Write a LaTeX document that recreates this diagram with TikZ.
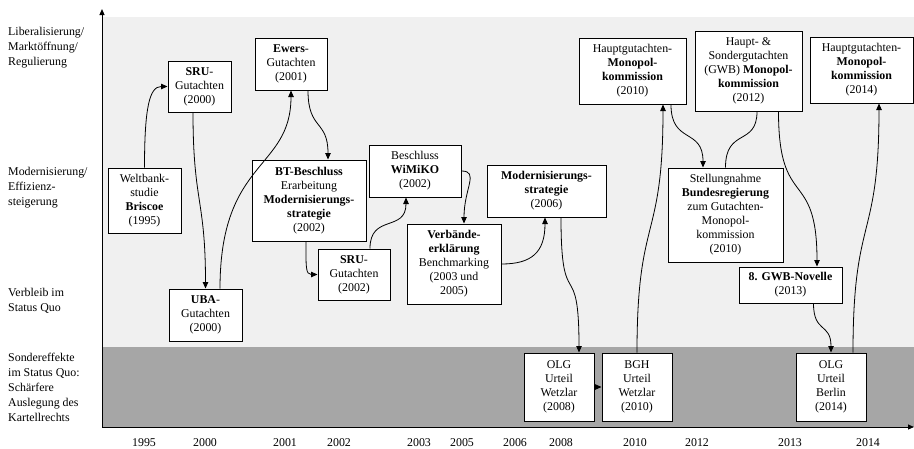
\documentclass[tikz,border=0pt]{standalone}
\usepackage{fontspec}
\setmainfont{Liberation Serif}
\usepackage{tikz}
\usetikzlibrary{arrows.meta, positioning}

\definecolor{bandlight}{RGB}{240,240,240}
\definecolor{banddark}{RGB}{166,166,166}

\begin{document}
\begin{tikzpicture}[
  x=1pt, y=-1pt,
  font=\fontsize{11.9}{14}\selectfont,
  box/.style={draw, line width=1pt, fill=white, align=center, inner sep=2pt},
  arrow/.style={-{Triangle[length=6.5pt,width=5.5pt]}, line width=0.8pt},
  link/.style={line width=0.8pt},
  level/.style={anchor=west, align=left, inner sep=0pt, font=\fontsize{11.9}{15}\selectfont},
  year/.style={inner sep=0pt},
  axis/.style={-{Triangle[length=6pt,width=5pt]}, line width=1pt}
]
\useasboundingbox (0,0) rectangle (914,448);

% background bands
\fill[bandlight] (102,17) rectangle (914,347);
\fill[banddark] (102,347) rectangle (914,427);

% axes
\coordinate (origin) at (102,427);
\coordinate (ytop) at (102,9);
\coordinate (xend) at (914,427);
\draw[axis] (origin) -- (ytop);
\draw[axis] (origin) -- (xend);

% levels
\node[level] (lvlLib) at (8,48) {Liberalisierung/\\Marktöffnung/\\Regulierung};
\node[level] (lvlMod) at (8,188) {Modernisierung/\\Effizienz-\\steigerung};
\node[level] (lvlQuo) at (8,301) {Verbleib im\\Status Quo};
\node[level] (lvlSon) at (8,387) {Sondereffekte\\im Status Quo:\\Schärfere\\Auslegung des\\Kartellrechts};

% years
\foreach \yr/\xp in {1995/144, 2000/205, 2001/285, 2002/339, 2003/419, 2005/462,
                     2006/515, 2008/561, 2010/635, 2012/697, 2013/790, 2014/868}
  \node[year] (yr\yr) at (\xp,443) {\yr};

% events
\node[box, minimum width=73, minimum height=65] (wb) at (144.5,200.5) {Weltbank-\\studie\\\textbf{Briscoe}\\(1995)};
\node[box, minimum width=63, minimum height=51] (sruA) at (199.5,86.5) {\textbf{SRU}-\\Gutachten\\(2000)};
\node[box, minimum width=73, minimum height=52] (uba) at (205.5,315) {\textbf{UBA}-\\Gutachten\\(2000)};
\node[box, minimum width=72, minimum height=52] (ewers) at (291,64) {\textbf{Ewers}-\\Gutachten\\(2001)};
\node[box, minimum width=114, minimum height=81] (bt) at (309,200.5) {\textbf{BT-Beschluss}\\Erarbeitung\\\textbf{Modernisierungs-}\\\textbf{strategie}\\(2002)};
\node[box, minimum width=72, minimum height=51] (sruB) at (354,274.5) {\textbf{SRU}-\\Gutachten\\(2002)};
\node[box, minimum width=92, minimum height=52] (wimiko) at (415,171) {Beschluss\\\textbf{WiMiKO}\\(2002)};
\node[box, minimum width=94, minimum height=80] (verb) at (454,264) {\textbf{Verbände-}\\\textbf{erklärung}\\Benchmarking\\(2003 und\\2005)};
\node[box, minimum width=119, minimum height=52] (modstr) at (546.5,191) {\textbf{Modernisierungs-}\\\textbf{strategie}\\(2006)};
\node[box, minimum width=107, minimum height=66] (hgA) at (632.5,71) {Hauptgutachten-\\\textbf{Monopol-}\\\textbf{kommission}\\(2010)};
\node[box, minimum width=107, minimum height=80] (hsg) at (748.5,71) {Haupt- \&\\Sondergutachten\\(GWB) \textbf{Monopol-}\\\textbf{kommission}\\(2012)};
\node[box, minimum width=103, minimum height=66] (hgB) at (861.5,70) {Hauptgutachten-\\\textbf{Monopol-}\\\textbf{kommission}\\(2014)};
\node[box, minimum width=115, minimum height=94] (stell) at (725.5,215) {Stellungnahme\\\textbf{Bundesregierung}\\zum Gutachten-\\Monopol-\\kommission\\(2010)};
\node[box, minimum width=103, minimum height=36] (gwb) at (790.5,285) {\textbf{8. GWB-Novelle}\\(2013)};
\node[box, minimum width=70, minimum height=68] (olgA) at (559,387) {OLG\\Urteil\\Wetzlar\\(2008)};
\node[box, minimum width=70, minimum height=68] (bgh) at (637,387) {BGH\\Urteil\\Wetzlar\\(2010)};
\node[box, minimum width=70, minimum height=68] (olgB) at (831,387) {OLG\\Urteil\\Berlin\\(2014)};

% connectors
\draw[arrow] (wb.north) .. controls +(0,-60) and +(-18,0) .. (sruA.west);
\draw[arrow] ([xshift=-6.5pt]sruA.south) .. controls +(0,90) and +(0,-90) .. (uba.north);
\draw[arrow] ([xshift=14.5pt]uba.north) .. controls +(0,-130) and +(0,80) .. (ewers.south);
\draw[arrow] ([xshift=17pt]ewers.south) .. controls +(0,40) and +(0,-40) .. ([xshift=19pt]bt.north);
\draw[arrow] ([xshift=-3pt]bt.south) .. controls +(0,25) and +(-12,0) .. (sruB.west);
\draw[arrow] ([xshift=16pt]sruB.north) .. controls +(0,-35) and +(0,35) .. ([xshift=-9pt]wimiko.south);
\draw[arrow] (wimiko.east) .. controls +(18,0) and +(0,-35) .. ([xshift=10pt]verb.north);
\draw[arrow] (verb.east) .. controls +(30,0) and +(0,35) .. ([xshift=-1.5pt]modstr.south);
\draw[arrow] ([xshift=14.5pt]modstr.south) .. controls +(0,100) and +(0,-100) .. ([xshift=20pt]olgA.north);
\draw[arrow] (olgA.east) -- (bgh.west);
\draw[arrow] (bgh.north) .. controls +(0,-140) and +(0,140) .. ([xshift=30.5pt]hgA.south);
\draw[arrow] ([xshift=38.5pt]hgA.south) .. controls +(0,40) and +(0,-40) .. ([xshift=-22.5pt]stell.north);
\draw[link] (stell.north) .. controls +(0,-40) and +(0,35) .. ([xshift=8.5pt]hsg.south);
\draw[arrow] ([xshift=30pt]hsg.south) .. controls +(0,100) and +(0,-100) .. ([xshift=26.5pt]gwb.north);
\draw[arrow] ([xshift=23pt]gwb.south) .. controls +(0,30) and +(0,-30) .. (olgB.north);
\draw[arrow] ([xshift=22pt]olgB.north) .. controls +(0,-140) and +(0,140) .. ([xshift=17.5pt]hgB.south);
\end{tikzpicture}
\end{document}
